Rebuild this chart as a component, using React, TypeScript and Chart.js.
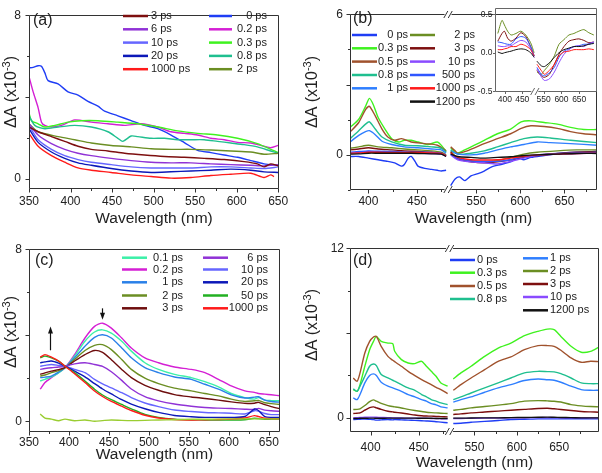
import React, { useEffect, useRef } from "react";
import { Chart, registerables } from "chart.js";

Chart.register(...registerables);

const FONT = 'Arial, "Liberation Sans", Helvetica, sans-serif';
const INK = "#222";

// ---------------- Panel (a) ----------------
const A_0PS_X = [350, 355, 361, 365, 369, 373, 385, 397, 409, 421, 433, 441, 457, 473, 489, 505, 521, 537, 553, 569, 585, 601, 617, 633, 650];
const A_0PS_Y = [5.42, 5.45, 5.53, 5.5, 5.19, 4.8, 4.64, 4.25, 4.09, 3.78, 3.55, 3.31, 3.08, 2.84, 2.61, 2.45, 2.14, 1.77, 1.39, 1.28, 1.16, 1.05, 0.89, 0.73, 0.66];
const A_02PS_X = [350, 355, 361, 365, 369, 377, 389, 405, 425, 445, 465, 485, 505, 521, 537, 553, 569, 585, 601, 617, 633, 641, 650];
const A_02PS_Y = [5.0, 4.25, 3.47, 2.77, 2.61, 2.53, 2.61, 2.88, 2.77, 2.69, 2.61, 2.69, 2.53, 2.3, 2.22, 2.14, 1.98, 1.91, 1.78, 1.75, 1.59, 1.52, 1.63];
const A_03PS_X = [350, 353, 361, 369, 381, 397, 413, 433, 457, 481, 505, 529, 553, 577, 601, 625, 641, 650];
const A_03PS_Y = [3.23, 2.84, 2.69, 2.53, 2.61, 2.77, 2.84, 2.84, 2.77, 2.69, 2.53, 2.34, 2.22, 2.14, 1.98, 1.72, 1.44, 1.28];
const A_08PS_X = [350, 357, 369, 385, 405, 425, 445, 457, 463, 473, 481, 497, 513, 529, 545, 561, 577, 593, 609, 625, 641, 650];
const A_08PS_Y = [3.08, 2.61, 2.45, 2.53, 2.61, 2.53, 2.3, 1.98, 1.83, 2.09, 2.06, 1.98, 1.98, 1.91, 1.91, 1.91, 1.83, 1.75, 1.67, 1.56, 1.36, 1.25];
const A_2PS_X = [350, 361, 385, 405, 425, 449, 473, 497, 521, 545, 569, 593, 617, 633, 650];
const A_2PS_Y = [2.69, 2.3, 2.06, 1.91, 1.75, 1.63, 1.56, 1.47, 1.44, 1.44, 1.41, 1.36, 1.31, 1.2, 1.25];
const A_3PS_X = [350, 361, 377, 393, 409, 425, 445, 465, 489, 513, 537, 561, 585, 609, 625, 633, 641, 650];
const A_3PS_Y = [2.53, 2.3, 2.06, 1.83, 1.59, 1.44, 1.36, 1.25, 1.16, 1.09, 1.05, 1.0, 0.94, 0.84, 0.73, 0.58, 0.73, 0.63];
const A_GRID = [350, 361, 377, 393, 409, 425, 449, 473, 497, 521, 545, 569, 593, 617, 633, 650];
const A_6PS_Y = [2.69, 2.14, 1.72, 1.44, 1.25, 1.13, 1.0, 0.89, 0.81, 0.78, 0.78, 0.73, 0.69, 0.66, 0.63, 0.69];
const A_10PS_Y = [2.61, 1.91, 1.44, 1.13, 0.94, 0.81, 0.69, 0.58, 0.53, 0.53, 0.53, 0.58, 0.58, 0.53, 0.5, 0.58];
const A_20PS_Y = [2.45, 1.78, 1.31, 1.0, 0.78, 0.66, 0.5, 0.38, 0.31, 0.34, 0.38, 0.42, 0.47, 0.42, 0.34, 0.31];
const A_1000PS_X = [350, 361, 377, 393, 409, 425, 449, 473, 497, 521, 545, 569, 593, 617, 633, 641, 645];
const A_1000PS_Y = [2.22, 1.59, 1.13, 0.81, 0.53, 0.42, 0.31, 0.19, 0.11, 0.03, 0.06, 0.16, 0.22, 0.27, 0.06, 0.19, 0.11];

// ---------------- Panel (b) ----------------
const B_0PS_X1 = [381, 390, 400, 410, 420, 427, 434, 437, 441, 444, 448, 451, 458, 465, 471, 475, 480];
const B_0PS_Y1 = [-0.07, -0.07, -0.14, -0.21, -0.28, -0.34, -0.48, -0.41, -0.14, -0.07, -0.28, -0.48, -0.58, -0.62, -0.66, -0.69, -0.66];
const B_0PS_X2 = [521, 526, 531, 537, 544, 552, 559, 567, 578, 589, 597, 604, 612, 627, 646, 664, 686];
const B_0PS_Y2 = [-1.31, -1.03, -0.94, -1.1, -0.9, -0.8, -0.69, -0.52, -0.41, -0.3, -0.14, -0.21, -0.11, -0.03, 0.07, 0.11, 0.14];
const B_03PS_X1 = [381, 390, 397, 401, 405, 410, 417, 424, 431, 437, 444, 451, 461, 471, 475, 480];
const B_03PS_Y1 = [1.17, 1.52, 2.07, 2.41, 2.14, 1.59, 1.1, 0.69, 0.55, 0.62, 0.62, 0.55, 0.44, 0.55, 0.41, 0.14];
const B_05PS_X1 = [381, 390, 397, 401, 407, 414, 420, 427, 434, 444, 458, 471, 480];
const B_05PS_Y1 = [0.97, 1.38, 1.93, 2.07, 1.66, 1.1, 0.76, 0.62, 0.69, 0.55, 0.48, 0.41, 0.17];
const B_FAST_X2 = [521, 526, 529, 537, 548, 559, 574, 589, 601, 612, 627, 642, 657, 672, 687];
const B_03PS_Y2 = [0.28, 0.14, 0.07, 0.21, 0.41, 0.62, 0.9, 1.1, 1.41, 1.45, 1.38, 1.31, 1.17, 1.08, 1.08];
const B_05PS_Y2 = [0.34, 0.17, 0.07, 0.14, 0.3, 0.48, 0.69, 0.9, 1.13, 1.24, 1.21, 1.13, 0.99, 0.9, 0.86];
const B_MID_X1 = [381, 390, 397, 401, 407, 414, 424, 437, 451, 465, 475, 480];
const B_08PS_Y1 = [0.69, 1.03, 1.31, 1.41, 1.1, 0.76, 0.55, 0.41, 0.39, 0.34, 0.28, 0.11];
const B_1PS_Y1 = [0.55, 0.83, 0.99, 1.03, 0.86, 0.58, 0.44, 0.34, 0.3, 0.25, 0.21, 0.07];
const B_MID_X2 = [521, 529, 544, 559, 574, 589, 604, 619, 634, 657, 687];
const B_08PS_Y2 = [0.21, 0.03, 0.07, 0.17, 0.34, 0.52, 0.69, 0.76, 0.72, 0.62, 0.52];
const B_1PS_Y2 = [0.17, 0.03, 0, 0.07, 0.21, 0.34, 0.44, 0.55, 0.52, 0.48, 0.41];
const B_SLOW_X1 = [381, 390, 400, 410, 424, 437, 451, 465, 475, 480];
const B_SLOW_X2 = [521, 529, 544, 559, 574, 589, 604, 619, 642, 664, 687];
const B_2PS_Y1 = [0.28, 0.34, 0.41, 0.34, 0.3, 0.25, 0.21, 0.17, 0.11, 0];
const B_2PS_Y2 = [0.14, -0.14, -0.28, -0.3, -0.25, -0.11, 0.03, 0.11, 0.17, 0.21, 0.21];
const B_3PS_Y1 = [0.21, 0.25, 0.3, 0.25, 0.21, 0.17, 0.14, 0.11, 0.07, -0.03];
const B_3PS_Y2 = [0.11, -0.17, -0.3, -0.34, -0.3, -0.21, -0.11, -0.03, 0.06, 0.11, 0.14];
const B_10PS_Y1 = [0.07, 0.1, 0.14, 0.12, 0.11, 0.08, 0.07, 0.06, 0.03, -0.07];
const B_10PS_Y2 = [0, -0.21, -0.3, -0.34, -0.39, -0.28, -0.14, -0.03, 0.03, 0.06, 0.08];
const B_500PS_Y1 = [0.11, 0.14, 0.17, 0.15, 0.14, 0.12, 0.11, 0.1, 0.07, -0.03];
const B_500PS_Y2 = [0.03, -0.14, -0.25, -0.28, -0.28, -0.21, -0.07, 0, 0.06, 0.08, 0.11];
const B_1000PS_Y1 = [0.07, 0.08, 0.11, 0.11, 0.1, 0.1, 0.1, 0.08, 0.06, -0.04];
const B_1000PS_Y2 = [0.07, -0.11, -0.21, -0.22, -0.21, -0.14, -0.06, 0, 0.03, 0.06, 0.07];
const B_1200PS_Y1 = [0.03, 0.04, 0.07, 0.07, 0.07, 0.07, 0.06, 0.04, 0.03, -0.07];
const B_1200PS_Y2 = [0.03, -0.07, -0.11, -0.14, -0.11, -0.08, -0.03, 0, 0.03, 0.06, 0.06];

// inset of (b)
const IN_X1 = [380, 392, 399, 408, 418, 432, 446, 460, 474, 484];
const IN_X2 = [531, 543, 552, 566, 580, 593, 607, 621, 635, 649, 663, 677, 691];
const IN_2PS_Y1 = [0.25, 0.42, 0.36, 0.28, 0.23, 0.25, 0.28, 0.23, 0.13, 0];
const IN_2PS_Y2 = [-0.25, -0.28, -0.23, -0.15, -0.04, 0.11, 0.17, 0.23, 0.25, 0.28, 0.3, 0.26, 0.23];
const IN_3PS_Y1 = [0.15, 0.25, 0.28, 0.19, 0.15, 0.19, 0.26, 0.21, 0.08, -0.04];
const IN_3PS_Y2 = [-0.23, -0.3, -0.32, -0.28, -0.15, -0.02, 0.08, 0.15, 0.17, 0.18, 0.16, 0.13, 0.14];
const IN_500PS_Y1 = [0.14, 0.13, 0.12, 0.11, 0.11, 0.18, 0.21, 0.19, 0.08, -0.04];
const IN_500PS_Y2 = [-0.19, -0.28, -0.3, -0.26, -0.19, -0.06, 0.02, 0.05, 0.08, 0.09, 0.11, 0.11, 0.13];
const IN_10PS_Y1 = [0.09, 0.08, 0.08, 0.09, 0.09, 0.13, 0.16, 0.14, 0.05, -0.06];
const IN_10PS_Y2 = [-0.21, -0.31, -0.36, -0.34, -0.25, -0.13, -0.02, 0.04, 0.08, 0.09, 0.08, 0.12, 0.14];
const IN_1000PS_Y1 = [0.04, 0.04, 0.05, 0.06, 0.08, 0.08, 0.11, 0.09, 0.04, -0.04];
const IN_1000PS_Y2 = [-0.15, -0.23, -0.28, -0.23, -0.15, -0.04, 0.01, 0.02, 0.04, 0.04, 0.04, 0.05, 0.04];
const IN_1200PS_Y1 = [0.01, -0.01, 0, 0.01, 0.02, 0.04, 0.05, 0.04, 0, -0.06];
const IN_1200PS_Y2 = [-0.11, -0.17, -0.18, -0.13, -0.06, 0, 0.04, 0.06, 0.08, 0.08, 0.09, 0.11, 0.12];

// ---------------- Panel (c) ----------------
const C_WL = [364, 370, 378, 387, 395, 407, 420, 432, 442, 453, 466, 478, 495, 512, 532, 553, 570, 587, 603, 620, 632, 637, 645, 653, 666];
const C_01PS = [1.87, 1.95, 2.06, 2.25, 2.49, 3.03, 3.72, 4.15, 4.25, 4.1, 3.72, 3.26, 2.72, 2.41, 2.18, 2.03, 1.84, 1.6, 1.29, 1.1, 1.03, 1.1, 0.98, 0.96, 0.95];
const C_02PS = [1.49, 1.8, 2.03, 2.26, 2.49, 3.1, 3.87, 4.41, 4.56, 4.33, 3.87, 3.41, 2.95, 2.72, 2.52, 2.41, 2.26, 1.95, 1.64, 1.41, 1.34, 1.29, 1.26, 1.23, 1.18];
const C_1PS = [2.03, 2.05, 2.1, 2.28, 2.49, 2.95, 3.49, 3.9, 4.02, 3.87, 3.41, 2.95, 2.49, 2.26, 2.06, 1.95, 1.72, 1.49, 1.23, 1.08, 1.12, 1.14, 0.98, 0.92, 0.88];
const C_2PS = [2.1, 2.15, 2.26, 2.35, 2.49, 2.87, 3.29, 3.53, 3.56, 3.33, 2.87, 2.41, 2.0, 1.75, 1.54, 1.41, 1.29, 1.18, 1.03, 0.92, 0.95, 0.97, 0.86, 0.82, 0.77];
const C_3PS = [2.18, 2.25, 2.33, 2.4, 2.49, 2.8, 3.1, 3.29, 3.2, 2.86, 2.41, 2.03, 1.67, 1.44, 1.24, 1.13, 1.06, 0.98, 0.9, 0.83, 0.84, 0.88, 0.77, 0.68, 0.57];
const C_6PS = [2.41, 2.45, 2.49, 2.52, 2.56, 2.67, 2.72, 2.64, 2.55, 2.3, 1.9, 1.5, 1.14, 0.95, 0.8, 0.7, 0.64, 0.61, 0.59, 0.56, 0.55, 0.6, 0.52, 0.49, 0.46];
const C_10PS = [2.56, 2.6, 2.64, 2.6, 2.56, 2.41, 2.26, 1.95, 1.74, 1.55, 1.33, 1.1, 0.85, 0.68, 0.52, 0.45, 0.41, 0.39, 0.37, 0.34, 0.49, 0.47, 0.36, 0.31, 0.31];
const C_20PS = [2.72, 2.76, 2.8, 2.7, 2.56, 2.33, 2.06, 1.75, 1.5, 1.27, 1.0, 0.8, 0.58, 0.41, 0.27, 0.21, 0.18, 0.18, 0.18, 0.22, 0.57, 0.5, 0.22, 0.18, 0.18];
const C_50PS = [2.95, 3.03, 2.95, 2.8, 2.56, 2.26, 1.87, 1.49, 1.22, 1.0, 0.78, 0.58, 0.32, 0.18, 0.1, 0.07, 0.06, 0.06, 0.06, 0.07, 0.14, 0.12, 0.09, 0.1, 0.11];
const C_1000PS = [2.98, 3.1, 2.98, 2.8, 2.56, 2.21, 1.8, 1.41, 1.15, 0.92, 0.7, 0.5, 0.28, 0.15, 0.08, 0.06, 0.07, 0.08, 0.1, 0.15, 0.26, 0.22, 0.14, 0.12, 0.11];
const C_BASE = [0.34, 0.15, 0.1, 0.02, 0.1, 0.02, 0.06, 0, 0.03, 0.06, 0.04, 0.03, 0.04, 0.06, 0.07, 0.09, 0.09, 0.1, 0.11, 0.11, 0.11, 0.11, 0.11, 0.11, 0.11];

// ---------------- Panel (d) ----------------
const D_X1 = [382, 386, 389, 394, 399, 403, 406, 411, 418, 423, 425, 432, 439, 446, 453, 458, 463, 468, 473, 480];
const D_X2 = [525, 534, 546, 562, 578, 593, 609, 625, 636, 644, 652, 664, 676, 687, 697];
const D_03PS_1 = [2.0, 1.88, 2.35, 3.65, 4.82, 5.41, 5.76, 5.41, 5.29, 5.25, 4.71, 4.12, 3.88, 3.84, 4.0, 3.65, 3.29, 2.94, 2.47, 2.24];
const D_03PS_2 = [2.75, 3.18, 3.65, 4.35, 4.94, 5.29, 5.81, 6.12, 6.28, 6.24, 5.76, 5.06, 4.64, 4.7, 5.01];
const D_05PS_1 = [2.82, 2.59, 3.18, 4.59, 5.41, 5.72, 5.76, 5.06, 4.35, 4.07, 3.98, 3.65, 3.29, 2.99, 2.71, 2.52, 2.35, 2.16, 2.0, 1.72];
const D_05PS_2 = [1.95, 2.35, 2.82, 3.41, 4.0, 4.31, 4.82, 5.11, 5.11, 5.06, 4.78, 4.24, 3.93, 4.0, 3.98];
const D_08PS_1 = [2.05, 1.88, 2.24, 2.94, 3.65, 3.81, 3.69, 3.06, 2.82, 2.66, 2.59, 2.35, 2.12, 1.95, 1.65, 1.48, 1.29, 1.18, 1.06, 0.94];
const D_08PS_2 = [1.29, 1.48, 1.76, 2.12, 2.47, 2.82, 3.18, 3.29, 3.27, 3.25, 3.13, 2.82, 2.47, 2.42, 2.42];
const D_1PS_1 = [1.41, 1.29, 1.65, 2.47, 2.99, 3.11, 2.99, 2.52, 2.24, 2.12, 2.07, 1.88, 1.65, 1.48, 1.29, 1.18, 1.01, 0.92, 0.78, 0.71];
const D_1PS_2 = [1.11, 1.29, 1.48, 1.81, 2.12, 2.35, 2.64, 2.75, 2.7, 2.66, 2.52, 2.24, 2.0, 1.95, 1.95];
const D_2PS_1 = [0.59, 0.6, 0.64, 0.87, 1.15, 1.27, 1.18, 1.02, 0.87, 0.8, 0.78, 0.7, 0.6, 0.52, 0.45, 0.4, 0.37, 0.35, 0.33, 0.31];
const D_2PS_2 = [0.54, 0.6, 0.71, 0.8, 0.9, 1.01, 1.18, 1.22, 1.2, 1.18, 1.12, 0.94, 0.85, 0.8, 0.78];
const D_3PS_1 = [0.31, 0.33, 0.35, 0.54, 0.72, 0.78, 0.71, 0.6, 0.47, 0.42, 0.4, 0.34, 0.27, 0.2, 0.15, 0.13, 0.12, 0.1, 0.09, 0.07];
const D_3PS_2 = [0.24, 0.28, 0.35, 0.41, 0.48, 0.54, 0.6, 0.66, 0.68, 0.64, 0.59, 0.52, 0.45, 0.42, 0.4];
const D_0PS_1 = [-0.12, -0.1, -0.1, -0.08, -0.1, -0.12, -0.16, -0.14, -0.12, -0.14, -0.12, -0.14, -0.16, -0.18, -0.2, -0.22, -0.24, -0.27, -0.3, -0.35];
const D_0PS_2 = [-0.4, -0.38, -0.31, -0.25, -0.19, -0.12, -0.1, -0.07, -0.07, -0.07, -0.07, -0.06, -0.06, -0.07, -0.07];
const D_10PS_1 = [0.0, 0.02, 0.03, 0.04, 0.05, 0.05, 0.04, 0.03, 0.02, 0.0, 0.0, -0.01, -0.02, -0.02, -0.02, -0.03, -0.04, -0.05, -0.06, -0.07];
const D_10PS_2 = [-0.05, -0.04, -0.03, -0.02, -0.01, 0.0, 0.01, 0.02, 0.02, 0.02, 0.01, 0.0, 0.0, 0.0, 0.0];
const D_1200PS_1 = [-0.05, -0.04, -0.03, -0.03, -0.02, -0.02, -0.03, -0.03, -0.02, -0.02, -0.02, -0.02, -0.02, -0.02, -0.03, -0.03, -0.03, -0.04, -0.04, -0.05];
const D_1200PS_2 = [-0.02, -0.02, -0.01, 0.0, 0.0, 0.02, 0.03, 0.04, 0.05, 0.04, 0.03, 0.02, 0.0, 0.0, 0.0];

// ---------------- axis ticks ----------------
const X_MAJOR_FULL = [350, 400, 450, 500, 550, 600, 650];
const X_MINOR_FULL = [375, 425, 475, 525, 575, 625];
const X_MAJOR_BROKEN = [400, 450, 550, 600, 650];
const X_MINOR_BROKEN = [425, 475, 575, 625, 675];

// ---------------- colours ----------------
const COL = {
  blue0: "#1f3df5",
  magenta: "#d41fd4",
  green: "#3ff21f",
  teal: "#1fbf8f",
  olive: "#6b8e23",
  maroon: "#7d0f0f",
  purple: "#9032d6",
  violet: "#6666ff",
  navy: "#0c18b8",
  red: "#ff1a1a",
  sienna: "#a0522d",
  sky: "#2f7fff",
  violet2: "#8a4bff",
  blue500: "#3056ff",
  black: "#111111",
  mint: "#3cf0a8",
  azure: "#2a80e8",
  green50: "#22b022",
  yellowgreen: "#9acd32",
};

type Series = { label: string; color: string; x1: number[]; y1: number[]; x2?: number[]; y2?: number[]; width?: number };
type LegendCol = { lineX: number; lineW: number; textX: number; align: "left" | "right"; ys: number[]; items: string[] };
type Panel = {
  left: number; top: number; w: number; h: number;
  pad: { left: number; right: number; top: number; bottom: number };
  yw: number; xh: number;
  T: (x: number) => number;
  xMin: number; xMax: number; yMin: number; yMax: number;
  xMajor: number[]; xMinor: number[]; yMajor: number[]; yMinor: number[];
  yLabel: (v: number) => string;
  tickFont: number; xTickPad: number; yTickPad: number;
  xTitle?: string; xTitlePad?: number;
  yTitlePos?: { x: number; y: number };
  breakAt?: number; breakSides: ("top" | "bottom")[];
  series: Series[]; lineWidth: number;
  legend?: LegendCol[];
  tag?: { text: string; x: number; y: number };
  arrows?: { x: number; y0: number; y1: number }[];
  frameColor: string; majorLen: number; minorLen: number;
};

const TA = (x: number) => x;
const TB = (x: number) => (x <= 500 ? x : 482 + (x - 518) * 0.908);
const TD = (x: number) => (x <= 500 ? x : 482 + (x - 520.6) * 0.88);
const TI = (x: number) => (x <= 505 ? x : 486 + (x - 525) * 1.017);

const PANELS: Panel[] = [
  {
    left: 0, top: 0, w: 300, h: 235,
    pad: { left: 0, right: 21, top: 7, bottom: 0 }, yw: 29, xh: 46,
    T: TA, xMin: 350, xMax: 651, yMin: -0.5, yMax: 8,
    xMajor: X_MAJOR_FULL, xMinor: X_MINOR_FULL, yMajor: [0, 4, 8], yMinor: [2, 6],
    yLabel: (v) => (v === 0 || v === 8 ? String(v) : ""),
    tickFont: 12, xTickPad: 5, yTickPad: 8,
    xTitle: "Wavelength (nm)", xTitlePad: 6.7, yTitlePos: { x: 12, y: 92 },
    breakSides: [], lineWidth: 1.4,
    series: [
      { label: "3 ps", color: COL.maroon, x1: A_3PS_X, y1: A_3PS_Y },
      { label: "6 ps", color: COL.purple, x1: A_GRID, y1: A_6PS_Y },
      { label: "10 ps", color: COL.violet, x1: A_GRID, y1: A_10PS_Y },
      { label: "20 ps", color: COL.navy, x1: A_GRID, y1: A_20PS_Y },
      { label: "1000 ps", color: COL.red, x1: A_1000PS_X, y1: A_1000PS_Y },
      { label: "2 ps", color: COL.olive, x1: A_2PS_X, y1: A_2PS_Y },
      { label: "0.8 ps", color: COL.teal, x1: A_08PS_X, y1: A_08PS_Y },
      { label: "0.3 ps", color: COL.green, x1: A_03PS_X, y1: A_03PS_Y },
      { label: "0.2 ps", color: COL.magenta, x1: A_02PS_X, y1: A_02PS_Y },
      { label: "0 ps", color: COL.blue0, x1: A_0PS_X, y1: A_0PS_Y },
    ],
    legend: [
      { lineX: 123, lineW: 25, textX: 151, align: "left", ys: [16, 29.3, 42.6, 55.9, 69.2], items: ["3 ps", "6 ps", "10 ps", "20 ps", "1000 ps"] },
      { lineX: 209, lineW: 23, textX: 237, align: "left", ys: [16, 29.3, 42.6, 55.9, 69.2], items: ["   0 ps", "0.2 ps", "0.3 ps", "0.8 ps", "2 ps"] },
    ],
    tag: { text: "(a)", x: 33, y: 21 },
    frameColor: "#333", majorLen: 4, minorLen: 2.5,
  },
  {
    left: 300, top: 0, w: 302, h: 235,
    pad: { left: 0, right: 5, top: 7, bottom: 0 }, yw: 50, xh: 45,
    T: TB, xMin: 381, xMax: TB(687), yMin: -1.5, yMax: 6,
    xMajor: X_MAJOR_BROKEN, xMinor: X_MINOR_BROKEN, yMajor: [0, 3, 6], yMinor: [-1.5, 1.5, 4.5],
    yLabel: (v) => (v === 0 || v === 6 ? String(v) : ""),
    tickFont: 12, xTickPad: 4, yTickPad: 7,
    xTitle: "Wavelength (nm)", xTitlePad: 6.7, yTitlePos: { x: 13, y: 92 },
    breakAt: 482, breakSides: ["top", "bottom"], lineWidth: 1.4,
    series: [
      { label: "1200 ps", color: COL.black, x1: B_SLOW_X1, y1: B_1200PS_Y1, x2: B_SLOW_X2, y2: B_1200PS_Y2 },
      { label: "1000 ps", color: COL.red, x1: B_SLOW_X1, y1: B_1000PS_Y1, x2: B_SLOW_X2, y2: B_1000PS_Y2 },
      { label: "500 ps", color: COL.blue500, x1: B_SLOW_X1, y1: B_500PS_Y1, x2: B_SLOW_X2, y2: B_500PS_Y2 },
      { label: "10 ps", color: COL.violet2, x1: B_SLOW_X1, y1: B_10PS_Y1, x2: B_SLOW_X2, y2: B_10PS_Y2 },
      { label: "3 ps", color: COL.maroon, x1: B_SLOW_X1, y1: B_3PS_Y1, x2: B_SLOW_X2, y2: B_3PS_Y2 },
      { label: "2 ps", color: COL.olive, x1: B_SLOW_X1, y1: B_2PS_Y1, x2: B_SLOW_X2, y2: B_2PS_Y2 },
      { label: "1 ps", color: COL.sky, x1: B_MID_X1, y1: B_1PS_Y1, x2: B_MID_X2, y2: B_1PS_Y2 },
      { label: "0.8 ps", color: COL.teal, x1: B_MID_X1, y1: B_08PS_Y1, x2: B_MID_X2, y2: B_08PS_Y2 },
      { label: "0.5 ps", color: COL.sienna, x1: B_05PS_X1, y1: B_05PS_Y1, x2: B_FAST_X2, y2: B_05PS_Y2 },
      { label: "0.3 ps", color: COL.green, x1: B_03PS_X1, y1: B_03PS_Y1, x2: B_FAST_X2, y2: B_03PS_Y2 },
      { label: "0 ps", color: COL.blue0, x1: B_0PS_X1, y1: B_0PS_Y1, x2: B_0PS_X2, y2: B_0PS_Y2 },
    ],
    legend: [
      { lineX: 52, lineW: 25, textX: 108, align: "right", ys: [35, 48.3, 61.6, 75, 88.3], items: ["0 ps", "0.3 ps", "0.5 ps", "0.8 ps", "1 ps"] },
      { lineX: 110, lineW: 25, textX: 175, align: "right", ys: [35, 48.3, 61.6, 75, 88.3, 101.6], items: ["2 ps", "3 ps", "10 ps", "500 ps", "1000 ps", "1200 ps"] },
    ],
    tag: { text: "(b)", x: 53, y: 19 },
    frameColor: "#333", majorLen: 4, minorLen: 2.5,
  },
  {
    left: 0, top: 235, w: 300, h: 238,
    pad: { left: 0, right: 20, top: 12, bottom: 0 }, yw: 29, xh: 41,
    T: TA, xMin: 350, xMax: 664, yMin: -0.5, yMax: 8,
    xMajor: X_MAJOR_FULL, xMinor: X_MINOR_FULL, yMajor: [0, 4, 8], yMinor: [2, 6],
    yLabel: (v) => (v === 0 || v === 8 ? String(v) : ""),
    tickFont: 12, xTickPad: 3, yTickPad: 7,
    xTitle: "Wavelength (nm)", xTitlePad: 8.7, yTitlePos: { x: 12, y: 97 },
    breakSides: [], lineWidth: 1.4,
    series: [
      { label: "base", color: COL.yellowgreen, x1: C_WL, y1: C_BASE },
      { label: "1000 ps", color: COL.red, x1: C_WL, y1: C_1000PS },
      { label: "50 ps", color: COL.green50, x1: C_WL, y1: C_50PS },
      { label: "20 ps", color: COL.navy, x1: C_WL, y1: C_20PS },
      { label: "10 ps", color: COL.violet, x1: C_WL, y1: C_10PS },
      { label: "6 ps", color: COL.purple, x1: C_WL, y1: C_6PS },
      { label: "3 ps", color: "#6e0e0e", x1: C_WL, y1: C_3PS },
      { label: "2 ps", color: COL.olive, x1: C_WL, y1: C_2PS },
      { label: "1 ps", color: COL.azure, x1: C_WL, y1: C_1PS },
      { label: "0.1 ps", color: COL.mint, x1: C_WL, y1: C_01PS },
      { label: "0.2 ps", color: COL.magenta, x1: C_WL, y1: C_02PS },
    ],
    legend: [
      { lineX: 122, lineW: 25, textX: 183, align: "right", ys: [22.7, 34.5, 47.3, 60.5, 73.3], items: ["0.1 ps", "0.2 ps", "1 ps", "2 ps", "3 ps"] },
      { lineX: 203, lineW: 25, textX: 268, align: "right", ys: [22.7, 34.5, 47.3, 60.5, 73.3], items: ["6 ps", "10 ps", "20 ps", "50 ps", "1000 ps"] },
    ],
    tag: { text: "(c)", x: 35, y: 26 },
    arrows: [
      { x: 376, y0: 3.3, y1: 4.4 },
      { x: 441, y0: 5.25, y1: 4.72 },
    ],
    frameColor: "#333", majorLen: 4, minorLen: 2.5,
  },
  {
    left: 300, top: 235, w: 302, h: 238,
    pad: { left: 0, right: 3, top: 13, bottom: 0 }, yw: 50, xh: 41,
    T: TD, xMin: 378.6, xMax: TD(697), yMin: -1, yMax: 12,
    xMajor: X_MAJOR_BROKEN, xMinor: X_MINOR_BROKEN, yMajor: [0, 6, 12], yMinor: [3, 9],
    yLabel: (v) => (v === 0 || v === 12 ? String(v) : ""),
    tickFont: 12, xTickPad: 8, yTickPad: 6,
    xTitle: "Wavelength (nm)", xTitlePad: 0.7, yTitlePos: { x: 13, y: 90 },
    breakAt: 482, breakSides: ["top", "bottom"], lineWidth: 1.4,
    series: [
      { label: "1200 ps", color: COL.black, x1: D_X1, y1: D_1200PS_1, x2: D_X2, y2: D_1200PS_2 },
      { label: "10 ps", color: COL.violet2, x1: D_X1, y1: D_10PS_1, x2: D_X2, y2: D_10PS_2 },
      { label: "0 ps", color: COL.blue0, x1: D_X1, y1: D_0PS_1, x2: D_X2, y2: D_0PS_2 },
      { label: "3 ps", color: COL.maroon, x1: D_X1, y1: D_3PS_1, x2: D_X2, y2: D_3PS_2 },
      { label: "2 ps", color: COL.olive, x1: D_X1, y1: D_2PS_1, x2: D_X2, y2: D_2PS_2 },
      { label: "1 ps", color: COL.sky, x1: D_X1, y1: D_1PS_1, x2: D_X2, y2: D_1PS_2 },
      { label: "0.8 ps", color: COL.teal, x1: D_X1, y1: D_08PS_1, x2: D_X2, y2: D_08PS_2 },
      { label: "0.5 ps", color: COL.sienna, x1: D_X1, y1: D_05PS_1, x2: D_X2, y2: D_05PS_2 },
      { label: "0.3 ps", color: COL.green, x1: D_X1, y1: D_03PS_1, x2: D_X2, y2: D_03PS_2 },
    ],
    legend: [
      { lineX: 150, lineW: 25, textX: 177, align: "left", ys: [25, 37.7, 51, 64], items: ["0 ps", "0.3 ps", "0.5 ps", "0.8 ps"] },
      { lineX: 223, lineW: 25, textX: 250, align: "left", ys: [23.3, 36, 49, 62, 75.3], items: ["1 ps", "2 ps", "3 ps", "10 ps", "1200 ps"] },
    ],
    tag: { text: "(d)", x: 53, y: 26 },
    frameColor: "#333", majorLen: 4, minorLen: 2.5,
  },
  {
    left: 455, top: 0, w: 147, h: 112,
    pad: { left: 0, right: 5, top: 7, bottom: 0 }, yw: 40, xh: 20,
    T: TI, xMin: 372, xMax: TI(700), yMin: -0.51, yMax: 0.586,
    xMajor: X_MAJOR_BROKEN, xMinor: [], yMajor: [-0.5, 0, 0.5], yMinor: [],
    yLabel: (v) => v.toFixed(1),
    tickFont: 8.5, xTickPad: 2.5, yTickPad: 2.5,
    breakAt: 486, breakSides: ["bottom"], lineWidth: 1,
    series: [
      { label: "1200 ps", color: COL.black, x1: IN_X1, y1: IN_1200PS_Y1, x2: IN_X2, y2: IN_1200PS_Y2 },
      { label: "1000 ps", color: COL.red, x1: IN_X1, y1: IN_1000PS_Y1, x2: IN_X2, y2: IN_1000PS_Y2 },
      { label: "10 ps", color: COL.violet2, x1: IN_X1, y1: IN_10PS_Y1, x2: IN_X2, y2: IN_10PS_Y2 },
      { label: "500 ps", color: COL.blue500, x1: IN_X1, y1: IN_500PS_Y1, x2: IN_X2, y2: IN_500PS_Y2 },
      { label: "3 ps", color: COL.maroon, x1: IN_X1, y1: IN_3PS_Y1, x2: IN_X2, y2: IN_3PS_Y2 },
      { label: "2 ps", color: COL.olive, x1: IN_X1, y1: IN_2PS_Y1, x2: IN_X2, y2: IN_2PS_Y2 },
    ],
    frameColor: "#666", majorLen: 2.5, minorLen: 1.5,
  },
];

function buildPoints(s: Series, T: (x: number) => number, breakAt?: number) {
  const pts: { x: number; y: number | null }[] = s.x1.map((x, i) => ({ x: T(x), y: s.y1[i] }));
  if (s.x2 && s.y2) {
    pts.push({ x: breakAt ?? T(s.x1[s.x1.length - 1]) + 1, y: null });
    s.x2.forEach((x, i) => pts.push({ x: T(x), y: s.y2![i] }));
  }
  return pts;
}

function decor(p: Panel) {
  return {
    id: "decor",
    afterDatasetsDraw(chart: any) {
      const { ctx, chartArea: a } = chart;
      const xs = chart.scales.x;
      const ys = chart.scales.y;
      const L = Math.round(a.left) + 0.5;
      const R = Math.round(a.right) - 0.5;
      const Tp = Math.round(a.top) + 0.5;
      const B = Math.round(a.bottom) - 0.5;
      ctx.save();
      ctx.strokeStyle = p.frameColor;
      ctx.lineWidth = 1;
      const bx = p.breakAt !== undefined ? xs.getPixelForValue(p.breakAt) : null;
      const hline = (y: number, side: "top" | "bottom") => {
        ctx.beginPath();
        if (bx !== null && p.breakSides.includes(side)) {
          ctx.moveTo(L, y); ctx.lineTo(bx - 3.5, y);
          ctx.moveTo(bx + 3.5, y); ctx.lineTo(R, y);
        } else {
          ctx.moveTo(L, y); ctx.lineTo(R, y);
        }
        ctx.stroke();
      };
      hline(Tp, "top");
      hline(B, "bottom");
      ctx.beginPath();
      ctx.moveTo(L, Tp); ctx.lineTo(L, B);
      ctx.moveTo(R, Tp); ctx.lineTo(R, B);
      ctx.stroke();
      if (bx !== null) {
        for (const side of p.breakSides) {
          const y = side === "top" ? Tp : B;
          ctx.beginPath();
          for (const o of [-2.2, 2.2]) {
            ctx.moveTo(bx + o - 2, y + 3.5);
            ctx.lineTo(bx + o + 2, y - 3.5);
          }
          ctx.stroke();
        }
      }
      // tick marks (outward)
      ctx.beginPath();
      for (const v of p.xMajor) {
        const px = Math.round(xs.getPixelForValue(p.T(v))) + 0.5;
        ctx.moveTo(px, B); ctx.lineTo(px, B + p.majorLen);
      }
      for (const v of p.xMinor) {
        const px = Math.round(xs.getPixelForValue(p.T(v))) + 0.5;
        ctx.moveTo(px, B); ctx.lineTo(px, B + p.minorLen);
      }
      for (const v of p.yMajor) {
        const py = Math.round(ys.getPixelForValue(v)) + 0.5;
        ctx.moveTo(L, py); ctx.lineTo(L - p.majorLen, py);
      }
      for (const v of p.yMinor) {
        const py = Math.round(ys.getPixelForValue(v)) + 0.5;
        ctx.moveTo(L, py); ctx.lineTo(L - p.minorLen, py);
      }
      ctx.stroke();

      // legend
      if (p.legend) {
        ctx.font = `11px ${FONT}`;
        ctx.textBaseline = "middle";
        for (const col of p.legend) {
          col.items.forEach((item, i) => {
            const y = col.ys[i];
            const ds = chart.data.datasets.find((d: any) => d.label === item.trim());
            if (ds) {
              ctx.strokeStyle = ds.borderColor;
              ctx.lineWidth = 2.5;
              ctx.beginPath();
              ctx.moveTo(col.lineX, y);
              ctx.lineTo(col.lineX + col.lineW, y);
              ctx.stroke();
            }
            ctx.fillStyle = INK;
            ctx.textAlign = col.align;
            ctx.fillText(item, col.textX, y);
          });
        }
      }
      // panel tag
      if (p.tag) {
        ctx.font = `16px ${FONT}`;
        ctx.fillStyle = INK;
        ctx.textAlign = "left";
        ctx.textBaseline = "middle";
        ctx.fillText(p.tag.text, p.tag.x, p.tag.y);
      }
      // arrows
      for (const ar of p.arrows ?? []) {
        const x = Math.round(xs.getPixelForValue(p.T(ar.x))) + 0.5;
        const y0 = ys.getPixelForValue(ar.y0);
        const y1 = ys.getPixelForValue(ar.y1);
        const dir = Math.sign(y1 - y0);
        ctx.strokeStyle = "#111";
        ctx.fillStyle = "#111";
        ctx.lineWidth = 1.2;
        ctx.beginPath();
        ctx.moveTo(x, y0);
        ctx.lineTo(x, y1 - dir * 5);
        ctx.stroke();
        ctx.beginPath();
        ctx.moveTo(x, y1);
        ctx.lineTo(x - 2.5, y1 - dir * 7);
        ctx.lineTo(x + 2.5, y1 - dir * 7);
        ctx.closePath();
        ctx.fill();
      }
      // y-axis title with superscript
      if (p.yTitlePos) {
        const main = "\u0394A (x10";
        const sup = "-3";
        const tail = ")";
        const f1 = `16px ${FONT}`;
        const f2 = `11px ${FONT}`;
        ctx.save();
        ctx.translate(p.yTitlePos.x, p.yTitlePos.y);
        ctx.rotate(-Math.PI / 2);
        ctx.fillStyle = INK;
        ctx.textAlign = "left";
        ctx.textBaseline = "middle";
        ctx.font = f1;
        const w1 = ctx.measureText(main).width;
        const w3 = ctx.measureText(tail).width;
        ctx.font = f2;
        const w2 = ctx.measureText(sup).width;
        let cx = -(w1 + w2 + w3) / 2;
        ctx.font = f1;
        ctx.fillText(main, cx, 0);
        cx += w1;
        ctx.font = f2;
        ctx.fillText(sup, cx, -5);
        cx += w2;
        ctx.font = f1;
        ctx.fillText(tail, cx, 0);
        ctx.restore();
      }
      ctx.restore();
    },
  };
}

function buildChart(canvas: HTMLCanvasElement, p: Panel) {
  const xLabelMap = new Map<number, string>(p.xMajor.map((v) => [p.T(v), String(v)]));
  const datasets = p.series.map((s) => ({
    label: s.label,
    data: buildPoints(s, p.T, p.breakAt),
    borderColor: s.color,
    backgroundColor: s.color,
    borderWidth: s.width ?? p.lineWidth,
    pointRadius: 0,
    tension: 0.25,
    fill: false,
    spanGaps: false,
  }));
  return new Chart(canvas, {
    type: "line",
    data: { datasets } as any,
    options: {
      animation: false,
      responsive: false,
      maintainAspectRatio: false,
      devicePixelRatio: 1,
      layout: { padding: p.pad },
      plugins: { legend: { display: false }, tooltip: { enabled: false }, title: { display: false } },
      scales: {
        x: {
          type: "linear",
          min: p.xMin,
          max: p.xMax,
          grid: { display: false, drawTicks: false, tickLength: 0 },
          border: { display: false },
          ticks: {
            padding: p.xTickPad,
            autoSkip: false,
            maxRotation: 0,
            minRotation: 0,
            color: INK,
            font: { family: FONT, size: p.tickFont },
            callback: (v: any) => xLabelMap.get(Number(v)) ?? "",
          },
          afterBuildTicks: (s: any) => {
            s.ticks = p.xMajor.map((v) => ({ value: p.T(v) }));
          },
          afterFit: (s: any) => {
            s.height = p.xh;
          },
          title: {
            display: !!p.xTitle,
            text: p.xTitle ?? "",
            color: INK,
            font: { family: FONT, size: 15.5 },
            padding: { top: 0, bottom: p.xTitlePad ?? 0 },
          },
        },
        y: {
          type: "linear",
          min: p.yMin,
          max: p.yMax,
          grid: { display: false, drawTicks: false, tickLength: 0 },
          border: { display: false },
          ticks: {
            padding: p.yTickPad,
            autoSkip: false,
            color: INK,
            font: { family: FONT, size: p.tickFont },
            callback: (v: any) => p.yLabel(Number(v)),
          },
          afterBuildTicks: (s: any) => {
            s.ticks = p.yMajor.map((v) => ({ value: v }));
          },
          afterFit: (s: any) => {
            s.width = p.yw;
          },
          title: { display: false },
        },
      },
    } as any,
    plugins: [decor(p)],
  });
}

export default function App() {
  const refs = useRef<(HTMLCanvasElement | null)[]>([]);
  useEffect(() => {
    const charts = PANELS.map((p, i) => buildChart(refs.current[i]!, p));
    return () => charts.forEach((c) => c.destroy());
  }, []);
  return (
    <div style={{ position: "fixed", left: 0, top: 0, width: 602, height: 473, background: "#fff", overflow: "hidden" }}>
      {PANELS.map((p, i) => (
        <canvas
          key={i}
          ref={(el) => {
            refs.current[i] = el;
          }}
          width={p.w}
          height={p.h}
          style={{ position: "absolute", left: p.left, top: p.top, width: p.w, height: p.h }}
        />
      ))}
    </div>
  );
}
